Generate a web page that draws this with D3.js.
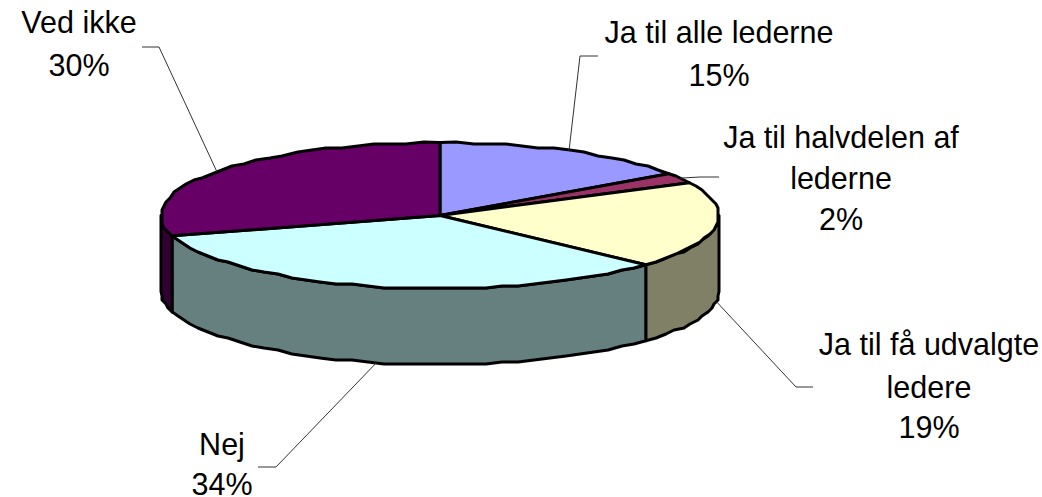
<!DOCTYPE html>
<html>
<head>
<meta charset="utf-8">
<script src="https://cdn.jsdelivr.net/npm/d3@7"></script>
<style>
html, body { margin: 0; padding: 0; background: #fff; }
svg { display: block; }
text { font-family: "Liberation Sans", Arial, sans-serif; font-size: 30.5px; fill: #000; }
</style>
</head>
<body>
<div id="chart"></div>
<script>
// values, labels show them rounded
var categories = ["Ja til alle lederne", "Ja til halvdelen af lederne", "Ja til få udvalgte ledere", "Nej", "Ved ikke"];
var values = [15.3, 2.3, 19.2, 33.7, 29.5];
var topColors = ["#9999ff", "#993366", "#ffffcc", "#ccffff", "#660066"];
var sideColors = ["#4d4d80", "#4d1a33", "#808066", "#668080", "#330033"];
var labelLines = [["Ja til alle lederne"], ["Ja til halvdelen af", "lederne"], ["Ja til få udvalgte", "ledere"], ["Nej"], ["Ved ikke"]];

var width = 1042, height = 497;
var cx = 440, cy = 215.5, rx = 279, ry = 73, depth = 76;

var svg = d3.select("#chart").append("svg").attr("width", width).attr("height", height);

var pie = d3.pie().sort(null).value(function(d){ return d; });
var slices = pie(values);

var scaleX = d3.scaleLinear().domain([-1, 1]).range([cx - rx, cx + rx]);
var scaleY = d3.scaleLinear().domain([-1, 1]).range([cy - ry, cy + ry]);

// angle is clockwise from the top of the pie
function px(a){ return scaleX(Math.sin(a)); }
function py(a, dz){ return scaleY(-Math.cos(a)) + (dz || 0); }

var line = d3.line();

// the original outline is coarse, so snap the rim to a rough pixel grid
function rim(a0, a1, dz){
    var n = Math.max(1, Math.ceil((a1 - a0) / (3.5 * Math.PI / 180)));
    return d3.range(n + 1).map(function(i){
        var a = a0 + (a1 - a0) * i / n;
        var x = px(a), y = py(a, dz);
        if (i > 0 && i < n) { x = Math.round(x / 2) * 2; y = Math.round(y / 2) * 2; }
        return [x, y];
    });
}

// front wall: only the part between 90 and 270 degrees shows
var wallGroup = svg.append("g");
slices.forEach(function(s, i){
    var a0 = Math.max(s.startAngle, Math.PI / 2);
    var a1 = Math.min(s.endAngle, Math.PI * 1.5);
    if (a1 <= a0) return;
    var pts = rim(a0, a1, 0).concat(rim(a0, a1, depth).reverse());
    wallGroup.append("path")
        .attr("d", line(pts) + "Z")
        .attr("fill", sideColors[i])
        .attr("stroke", "#000")
        .attr("stroke-width", 3)
        .attr("stroke-linejoin", "round");
});

// top faces
var topGroup = svg.append("g");
slices.forEach(function(s, i){
    var pts = [[cx, cy]].concat(rim(s.startAngle, s.endAngle, 0));
    topGroup.append("path")
        .attr("d", line(pts) + "Z")
        .attr("fill", topColors[i])
        .attr("stroke", "#000")
        .attr("stroke-width", 3)
        .attr("stroke-linejoin", "round");
});

// leader lines start on the rim at the middle of each slice, then go to the label
var leaderEnds = [
    [[580, 56], [598, 56]],
    [[700, 177], [719, 177]],
    [[796, 387], [813, 387]],
    [[276, 467], [258, 467]],
    [[159, 47], [142, 47]]
];
var onWall = [false, false, true, true, false];

slices.forEach(function(s, i){
    var mid = (s.startAngle + s.endAngle) / 2;
    var start = [px(mid), py(mid, onWall[i] ? depth : 0)];
    svg.append("path")
        .attr("d", line([start].concat(leaderEnds[i])))
        .attr("fill", "none")
        .attr("stroke", "#333")
        .attr("stroke-width", 1);
});

// labels
var labelPos = [
    {x: 719, y: [43, 86]},
    {x: 841, y: [148, 189, 230]},
    {x: 929, y: [355, 398, 438]},
    {x: 222, y: [455, 495]},
    {x: 79, y: [33, 76]}
];

slices.forEach(function(s, i){
    var lines = labelLines[i].concat([Math.round(values[i]) + "%"]);
    lines.forEach(function(t, j){
        svg.append("text")
            .attr("x", labelPos[i].x)
            .attr("y", labelPos[i].y[j])
            .attr("text-anchor", "middle")
            .text(t);
    });
});
</script>
</body>
</html>
